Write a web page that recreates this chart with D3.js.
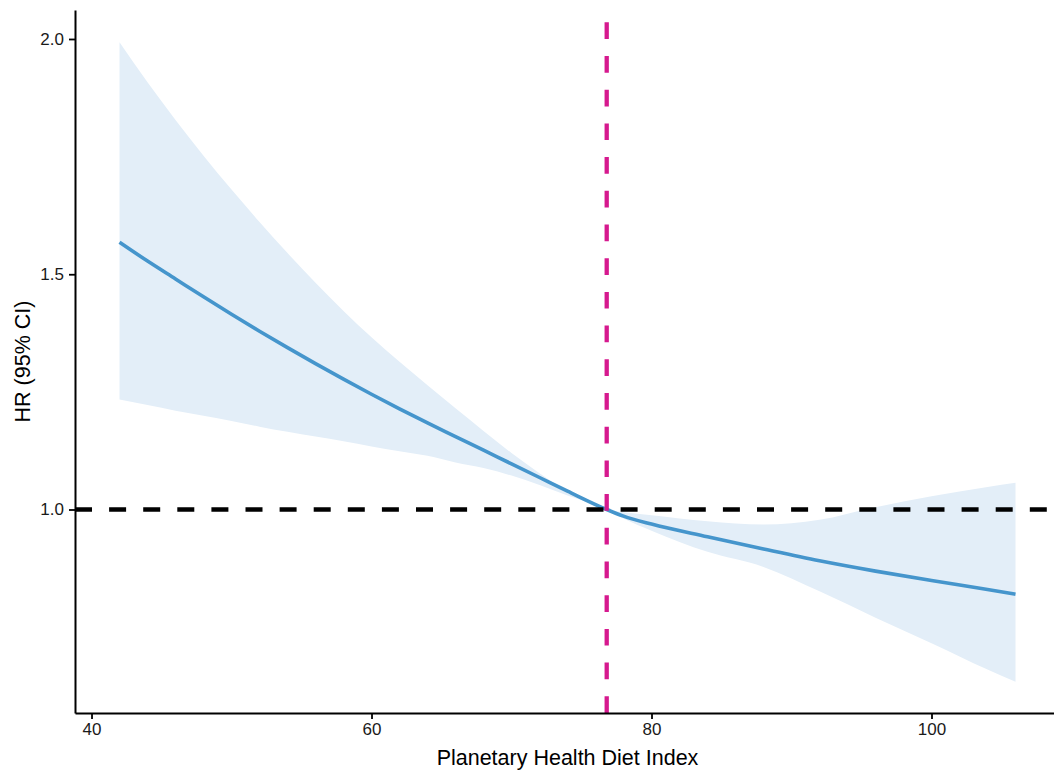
<!DOCTYPE html>
<html>
<head>
<meta charset="utf-8">
<script src="https://cdn.jsdelivr.net/npm/d3@7"></script>
<style>
  body { margin: 0; background: #fff; }
  text { font-family: "Liberation Sans", Arial, Helvetica, sans-serif; }
</style>
</head>
<body>
<div class="canvas"></div>
<script>
// data
const phdi = [42, 44, 46, 48, 50, 52, 54, 56, 58, 60, 62, 64, 66, 68, 70, 72, 74, 76.8, 78, 80, 84, 88, 92, 96, 100, 104, 106]
const hr = [1.568, 1.528, 1.490, 1.452, 1.415, 1.379, 1.344, 1.310, 1.277, 1.245, 1.214, 1.184, 1.155, 1.126, 1.097, 1.068, 1.039, 1.0, 0.986, 0.969, 0.942, 0.916, 0.891, 0.869, 0.849, 0.830, 0.820]
const upper = [1.993, 1.908, 1.828, 1.752, 1.680, 1.611, 1.545, 1.482, 1.422, 1.366, 1.314, 1.264, 1.215, 1.167, 1.120, 1.077, 1.038, 1.0, 0.994, 0.988, 0.975, 0.968, 0.978, 1.005, 1.028, 1.048, 1.057]
const lower = [1.234, 1.222, 1.210, 1.199, 1.188, 1.176, 1.165, 1.155, 1.145, 1.134, 1.124, 1.114, 1.100, 1.088, 1.072, 1.052, 1.030, 1.0, 0.981, 0.955, 0.910, 0.878, 0.826, 0.770, 0.716, 0.660, 0.634]
const xTicks = [40, 60, 80, 100]
const yTicks = [1.0, 1.5, 2.0]
const refX = 76.8
const refHR = 1.0

const data = phdi.map((d, i) => ({ x: d, hr: hr[i], lo: lower[i], hi: upper[i] }))

const width = 1054
const height = 770

const svg = d3.select('.canvas')
    .append('svg')
    .attr('width', width)
    .attr('height', height)

// panel edges
const panel = { left: 75, right: 1054, top: 10, bottom: 713 }

const x = d3.scaleLinear()
    .domain([38.82, 108.75])
    .range([panel.left, panel.right])

const y = d3.scaleLinear()
    .domain([0.5675, 2.0616])
    .range([panel.bottom, panel.top])

// confidence band
const area = d3.area()
    .x(d => x(d.x))
    .y0(d => y(d.lo))
    .y1(d => y(d.hi))
    .curve(d3.curveMonotoneX)

svg.append('path')
    .datum(data)
    .attr('d', area)
    .attr('fill', '#e3eef8')

// HR curve
const line = d3.line()
    .x(d => x(d.x))
    .y(d => y(d.hr))
    .curve(d3.curveMonotoneX)

svg.append('path')
    .datum(data)
    .attr('d', line)
    .attr('fill', 'none')
    .attr('stroke', '#4595cc')
    .attr('stroke-width', 3.6)

// reference lines
svg.append('line')
    .attr('x1', panel.left).attr('x2', panel.right)
    .attr('y1', y(refHR)).attr('y2', y(refHR))
    .attr('stroke', '#000')
    .attr('stroke-width', 4.5)
    .attr('stroke-dasharray', '17 17.1')

svg.append('line')
    .attr('x1', x(refX)).attr('x2', x(refX))
    .attr('y1', panel.bottom).attr('y2', panel.top)
    .attr('stroke', '#d6198e')
    .attr('stroke-width', 4.3)
    .attr('stroke-dasharray', '16.7 17')

// axes
const xAxis = d3.axisBottom(x)
    .tickValues(xTicks)
    .tickSize(6)
    .tickSizeOuter(0)
    .tickPadding(4)

const yAxis = d3.axisLeft(y)
    .tickValues(yTicks)
    .tickFormat(d3.format('.1f'))
    .tickSize(6)
    .tickSizeOuter(0)
    .tickPadding(5)

const xAxisGroup = svg.append('g')
    .attr('transform', `translate(0,${panel.bottom})`)
    .call(xAxis)
const yAxisGroup = svg.append('g')
    .attr('transform', `translate(${panel.left},0)`)
    .call(yAxis)

svg.selectAll('.domain')
    .attr('stroke', '#000')
    .attr('stroke-width', 2)
svg.selectAll('.tick line')
    .attr('stroke', '#000')
    .attr('stroke-width', 1.8)
svg.selectAll('.tick text')
    .attr('fill', '#1a1a1a')
    .style('font-size', '17px')

// axis titles
svg.append('text')
    .attr('x', (panel.left + panel.right) / 2 + 3)
    .attr('y', 765)
    .attr('text-anchor', 'middle')
    .style('font-size', '21.5px')
    .attr('fill', '#000')
    .text('Planetary Health Diet Index')

svg.append('text')
    .attr('transform', `translate(30,${(panel.top + panel.bottom) / 2}) rotate(-90)`)
    .attr('text-anchor', 'middle')
    .style('font-size', '21.5px')
    .attr('fill', '#000')
    .text('HR (95% CI)')
</script>
</body>
</html>
